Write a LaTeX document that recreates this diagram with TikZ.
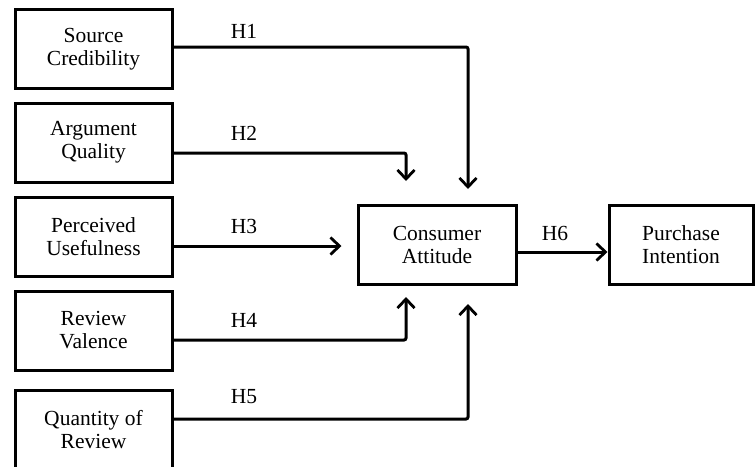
\documentclass[tikz,border=0pt]{standalone}
\usepackage{fontspec}
\setmainfont{Liberation Serif}
\usetikzlibrary{arrows.meta}

\begin{document}
\begin{tikzpicture}[x=1pt, y=-1pt, line width=3pt,
    font=\fontsize{21.5}{23}\selectfont, align=center,
    box/.style={draw, minimum width=157pt, minimum height=79pt, inner sep=0pt},
    link/.style={-{Straight Barb[length=9pt, width=17pt, line width=2.8pt]}, rounded corners=2pt}]
  \useasboundingbox (0,0) rectangle (755,466);
  % factors on the left
  \node[box] (src) at (93.5,49)    {Source\\Credibility};
  \node[box] (arg) at (93.5,142.5) {Argument\\Quality};
  \node[box] (use) at (93.5,236.5) {Perceived\\Usefulness};
  \node[box] (val) at (93.5,330.5) {Review\\Valence};
  \node[box] (qty) at (93.5,430)   {Quantity of\\Review};
  % attitude and intention
  \node[box, minimum width=158pt] (att) at (437,245) {Consumer\\Attitude};
  \node[box, minimum width=144pt] (pur) at (681,245) {Purchase\\Intention};

  \draw[link] ([yshift=2pt]src.east) -| ([xshift=31pt, yshift=15pt]att.north);
  \draw[link] ([yshift=-10.5pt]arg.east) -| ([xshift=-31pt, yshift=23pt]att.north);
  \draw[link] ([yshift=-9.5pt]use.east) -- ([xshift=-15pt, yshift=-9.5pt]att.west |- use.east);
  \draw[link] ([yshift=-9.5pt]val.east) -| ([xshift=-31pt, yshift=-11pt]att.south);
  \draw[link] ([yshift=11pt]qty.east) -| ([xshift=31pt, yshift=-18pt]att.south);
  \draw[link] ([yshift=-7pt]att.east) -- ([yshift=-7pt]pur.west);

  \node (h1) at (244,31)  {H1};
  \node (h2) at (244,133) {H2};
  \node (h3) at (244,226) {H3};
  \node (h4) at (244,320) {H4};
  \node (h5) at (244,397) {H5};
  \node (h6) at (555,233) {H6};
\end{tikzpicture}
\end{document}
